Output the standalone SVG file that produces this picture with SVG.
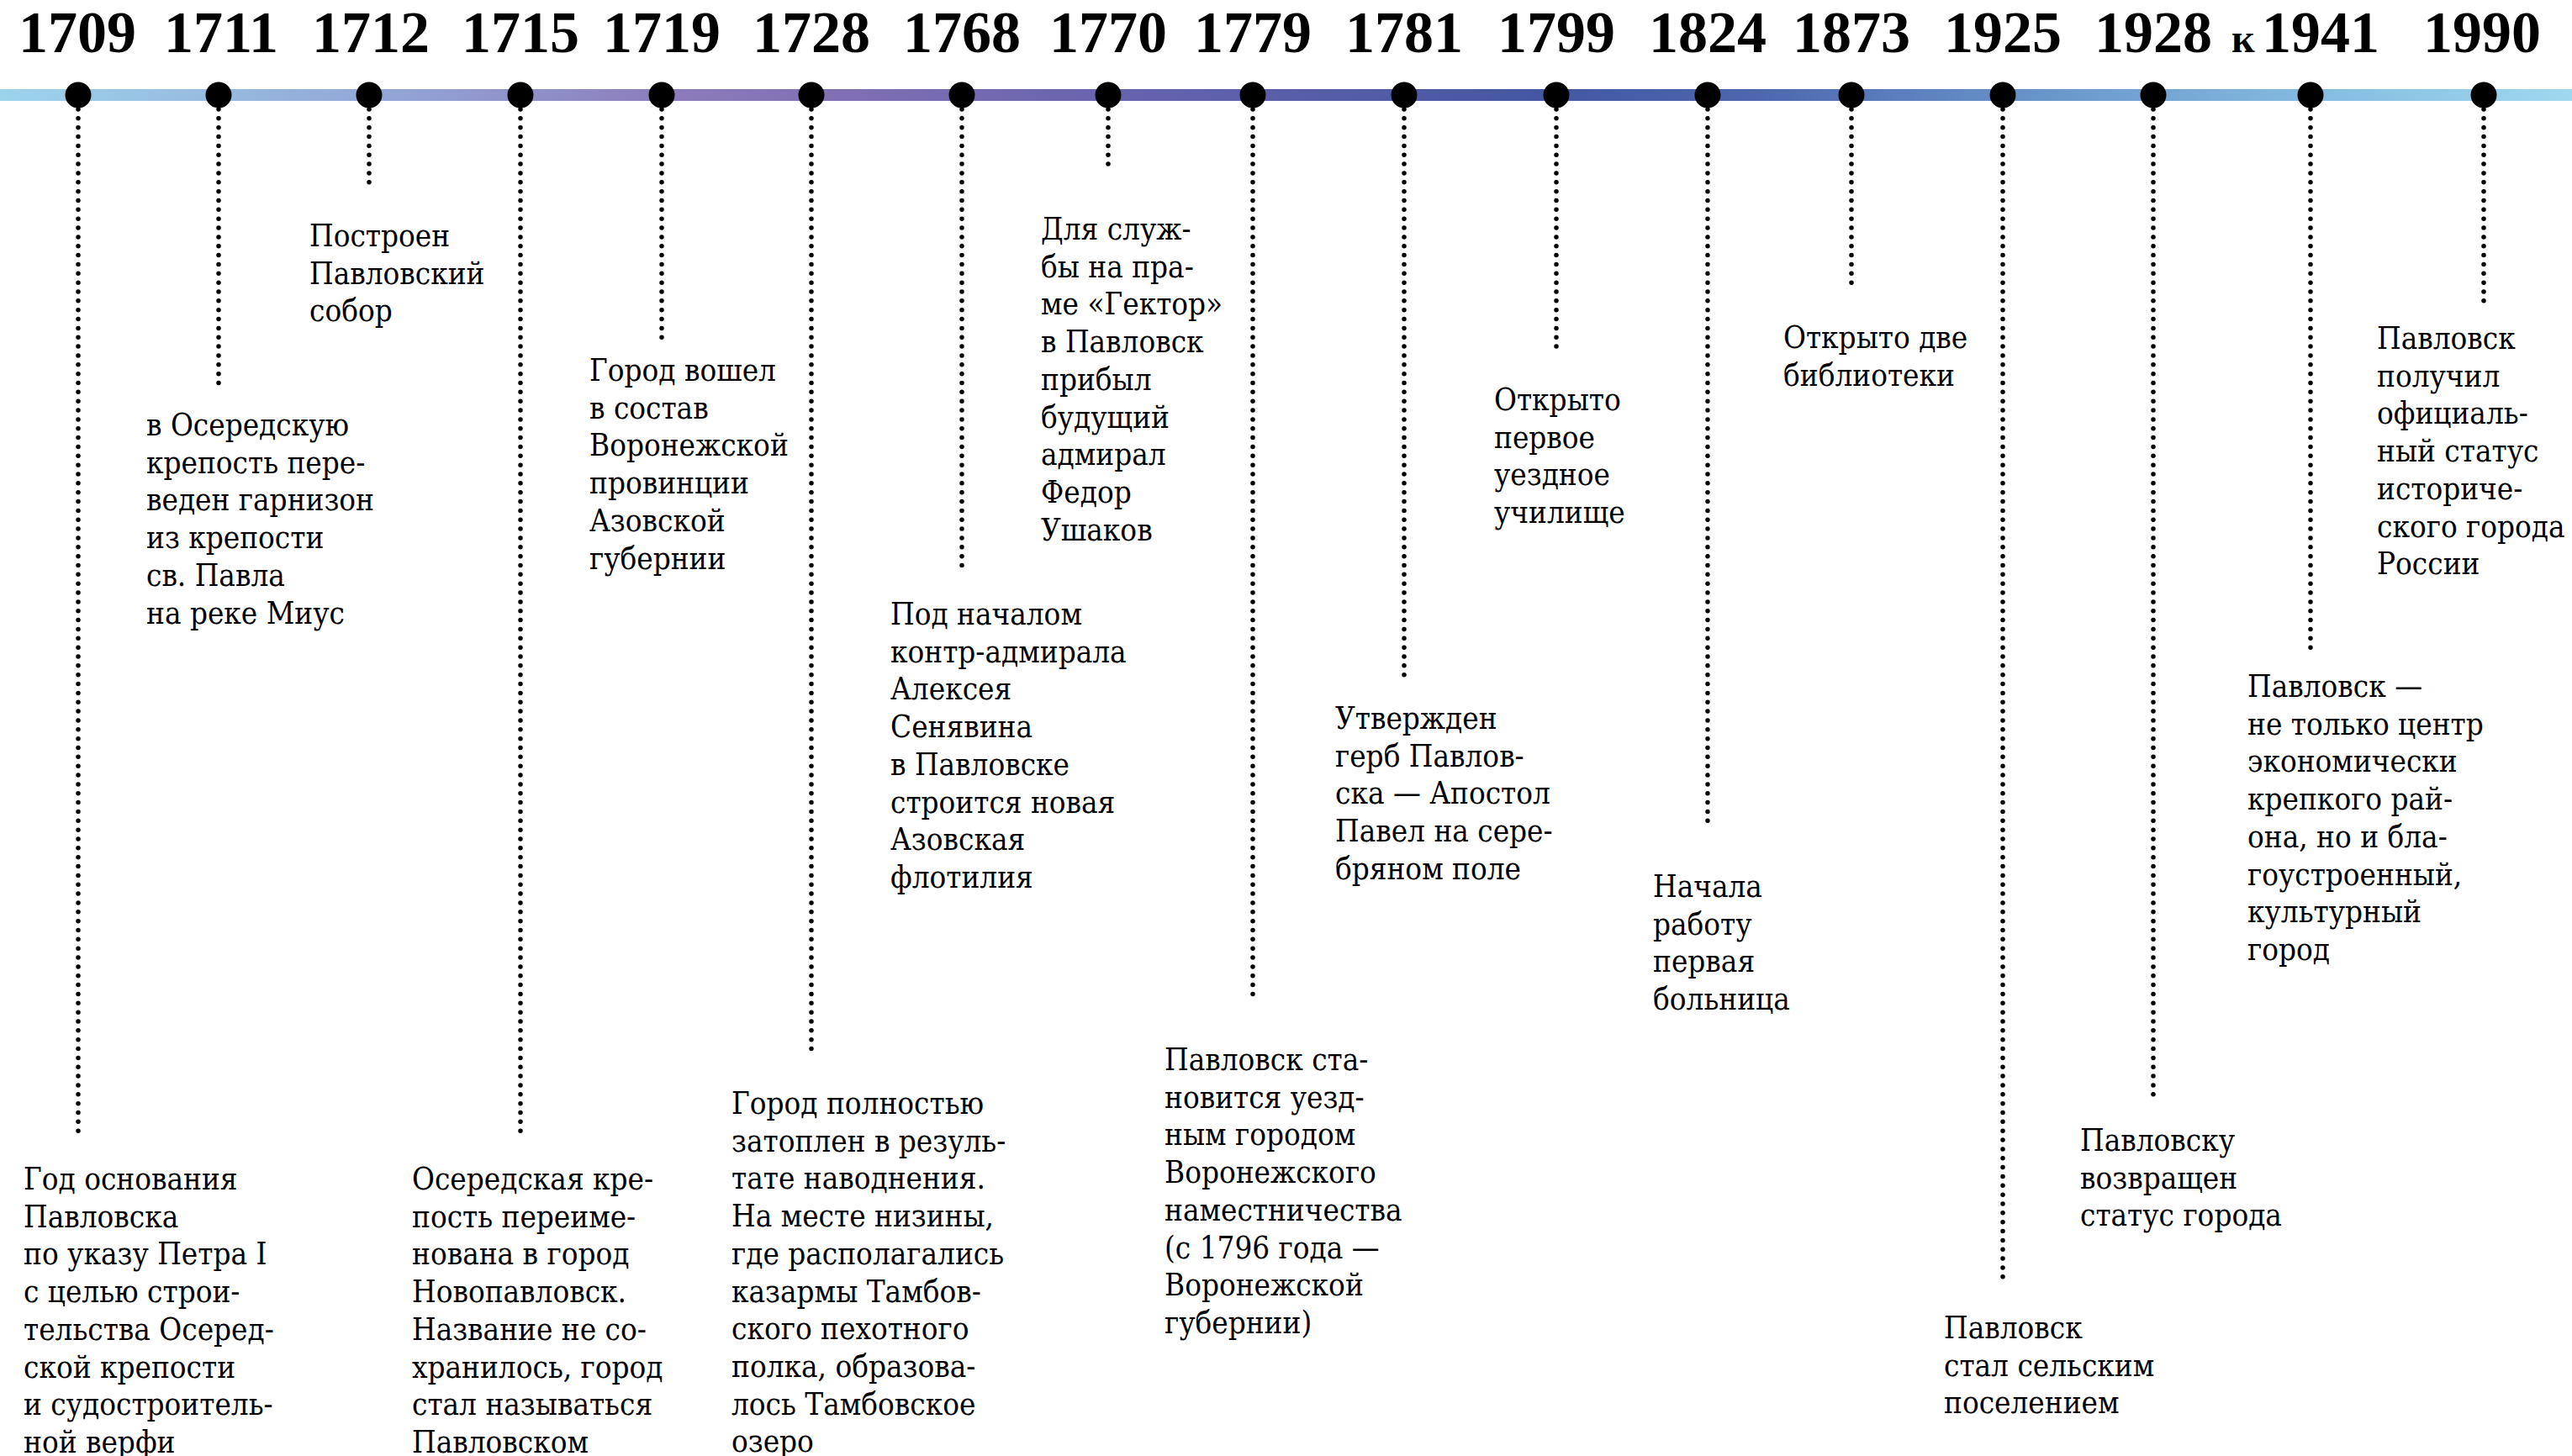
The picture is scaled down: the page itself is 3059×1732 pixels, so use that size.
<svg xmlns="http://www.w3.org/2000/svg" width="3059" height="1732" viewBox="0 0 3059 1732">
<style>
.yr{font-family:"Liberation Serif","Times New Roman",serif;font-weight:bold;font-size:70px;fill:#000;text-anchor:middle}
.t{font-family:"DejaVu Serif Condensed","DejaVu Serif",serif;font-stretch:condensed;font-size:36.5px;fill:#000}
.dl{stroke:#000;stroke-width:5.5;stroke-linecap:round;stroke-dasharray:0 10.85;fill:none}
.dot{fill:#000}
</style>
<defs>
<linearGradient id="bar" x1="0" y1="0" x2="3059" y2="0" gradientUnits="userSpaceOnUse">
<stop offset="0" stop-color="#9cd4ec"/>
<stop offset="0.15" stop-color="#93a6d6"/>
<stop offset="0.26" stop-color="#8c7cbb"/>
<stop offset="0.33" stop-color="#7f6fb3"/>
<stop offset="0.45" stop-color="#6462ad"/>
<stop offset="0.6" stop-color="#4457a2"/>
<stop offset="0.68" stop-color="#4d66ae"/>
<stop offset="0.8" stop-color="#6a98cb"/>
<stop offset="0.9" stop-color="#85bbe0"/>
<stop offset="1" stop-color="#a0d8ef"/>
</linearGradient>
</defs>
<rect width="3059" height="1732" fill="#fff"/>
<rect x="0" y="106" width="3059" height="14" fill="url(#bar)"/>
<g id="connectors">
<line class="dl" x1="93" y1="130" x2="93" y2="1346"/>
<line class="dl" x1="260" y1="130" x2="260" y2="465"/>
<line class="dl" x1="439" y1="130" x2="439" y2="227"/>
<line class="dl" x1="619" y1="130" x2="619" y2="1346"/>
<line class="dl" x1="787" y1="130" x2="787" y2="403"/>
<line class="dl" x1="965" y1="130" x2="965" y2="1249"/>
<line class="dl" x1="1144" y1="130" x2="1144" y2="673"/>
<line class="dl" x1="1318" y1="130" x2="1318" y2="205"/>
<line class="dl" x1="1490" y1="130" x2="1490" y2="1183"/>
<line class="dl" x1="1670" y1="130" x2="1670" y2="812"/>
<line class="dl" x1="1851" y1="130" x2="1851" y2="416"/>
<line class="dl" x1="2031" y1="130" x2="2031" y2="986"/>
<line class="dl" x1="2202" y1="130" x2="2202" y2="343"/>
<line class="dl" x1="2382" y1="130" x2="2382" y2="1519"/>
<line class="dl" x1="2561" y1="130" x2="2561" y2="1307"/>
<line class="dl" x1="2748" y1="130" x2="2748" y2="774"/>
<line class="dl" x1="2954" y1="130" x2="2954" y2="362"/>
</g>
<g id="e1709"><text class="yr" x="92" y="62">1709</text><circle class="dot" cx="93" cy="113" r="15.5"/>
<text class="t" y="1415"><tspan x="28">Год основания</tspan><tspan x="28" dy="44.7">Павловска</tspan><tspan x="28" dy="44.7">по указу Петра I</tspan><tspan x="28" dy="44.7">с целью строи-</tspan><tspan x="28" dy="44.7">тельства Осеред-</tspan><tspan x="28" dy="44.7">ской крепости</tspan><tspan x="28" dy="44.7">и судостроитель-</tspan><tspan x="28" dy="44.7">ной верфи</tspan></text></g>
<g id="e1711"><text class="yr" x="263" y="62">1711</text><circle class="dot" cx="260" cy="113" r="15.5"/>
<text class="t" y="518"><tspan x="174">в Осередскую</tspan><tspan x="174" dy="44.7">крепость пере-</tspan><tspan x="174" dy="44.7">веден гарнизон</tspan><tspan x="174" dy="44.7">из крепости</tspan><tspan x="174" dy="44.7">св. Павла</tspan><tspan x="174" dy="44.7">на реке Миус</tspan></text></g>
<g id="e1712"><text class="yr" x="441" y="62">1712</text><circle class="dot" cx="439" cy="113" r="15.5"/>
<text class="t" y="293"><tspan x="368">Построен</tspan><tspan x="368" dy="44.7">Павловский</tspan><tspan x="368" dy="44.7">собор</tspan></text></g>
<g id="e1715"><text class="yr" x="619" y="62">1715</text><circle class="dot" cx="619" cy="113" r="15.5"/>
<text class="t" y="1415"><tspan x="490">Осередская кре-</tspan><tspan x="490" dy="44.7">пость переиме-</tspan><tspan x="490" dy="44.7">нована в город</tspan><tspan x="490" dy="44.7">Новопавловск.</tspan><tspan x="490" dy="44.7">Название не со-</tspan><tspan x="490" dy="44.7">хранилось, город</tspan><tspan x="490" dy="44.7">стал называться</tspan><tspan x="490" dy="44.7">Павловском</tspan></text></g>
<g id="e1719"><text class="yr" x="787" y="62">1719</text><circle class="dot" cx="787" cy="113" r="15.5"/>
<text class="t" y="453"><tspan x="701">Город вошел</tspan><tspan x="701" dy="44.7">в состав</tspan><tspan x="701" dy="44.7">Воронежской</tspan><tspan x="701" dy="44.7">провинции</tspan><tspan x="701" dy="44.7">Азовской</tspan><tspan x="701" dy="44.7">губернии</tspan></text></g>
<g id="e1728"><text class="yr" x="965" y="62">1728</text><circle class="dot" cx="965" cy="113" r="15.5"/>
<text class="t" y="1325"><tspan x="870">Город полностью</tspan><tspan x="870" dy="44.7">затоплен в резуль-</tspan><tspan x="870" dy="44.7">тате наводнения.</tspan><tspan x="870" dy="44.7">На месте низины,</tspan><tspan x="870" dy="44.7">где располагались</tspan><tspan x="870" dy="44.7">казармы Тамбов-</tspan><tspan x="870" dy="44.7">ского пехотного</tspan><tspan x="870" dy="44.7">полка, образова-</tspan><tspan x="870" dy="44.7">лось Тамбовское</tspan><tspan x="870" dy="44.7">озеро</tspan></text></g>
<g id="e1768"><text class="yr" x="1144" y="62">1768</text><circle class="dot" cx="1144" cy="113" r="15.5"/>
<text class="t" y="743"><tspan x="1059">Под началом</tspan><tspan x="1059" dy="44.7">контр-адмирала</tspan><tspan x="1059" dy="44.7">Алексея</tspan><tspan x="1059" dy="44.7">Сенявина</tspan><tspan x="1059" dy="44.7">в Павловске</tspan><tspan x="1059" dy="44.7">строится новая</tspan><tspan x="1059" dy="44.7">Азовская</tspan><tspan x="1059" dy="44.7">флотилия</tspan></text></g>
<g id="e1770"><text class="yr" x="1318" y="62">1770</text><circle class="dot" cx="1318" cy="113" r="15.5"/>
<text class="t" y="285"><tspan x="1238">Для служ-</tspan><tspan x="1238" dy="44.7">бы на пра-</tspan><tspan x="1238" dy="44.7">ме «Гектор»</tspan><tspan x="1238" dy="44.7">в Павловск</tspan><tspan x="1238" dy="44.7">прибыл</tspan><tspan x="1238" dy="44.7">будущий</tspan><tspan x="1238" dy="44.7">адмирал</tspan><tspan x="1238" dy="44.7">Федор</tspan><tspan x="1238" dy="44.7">Ушаков</tspan></text></g>
<g id="e1779"><text class="yr" x="1490" y="62">1779</text><circle class="dot" cx="1490" cy="113" r="15.5"/>
<text class="t" y="1273"><tspan x="1385">Павловск ста-</tspan><tspan x="1385" dy="44.7">новится уезд-</tspan><tspan x="1385" dy="44.7">ным городом</tspan><tspan x="1385" dy="44.7">Воронежского</tspan><tspan x="1385" dy="44.7">наместничества</tspan><tspan x="1385" dy="44.7">(с 1796 года —</tspan><tspan x="1385" dy="44.7">Воронежской</tspan><tspan x="1385" dy="44.7">губернии)</tspan></text></g>
<g id="e1781"><text class="yr" x="1670" y="62">1781</text><circle class="dot" cx="1670" cy="113" r="15.5"/>
<text class="t" y="867"><tspan x="1588">Утвержден</tspan><tspan x="1588" dy="44.7">герб Павлов-</tspan><tspan x="1588" dy="44.7">ска — Апостол</tspan><tspan x="1588" dy="44.7">Павел на сере-</tspan><tspan x="1588" dy="44.7">бряном поле</tspan></text></g>
<g id="e1799"><text class="yr" x="1851" y="62">1799</text><circle class="dot" cx="1851" cy="113" r="15.5"/>
<text class="t" y="488"><tspan x="1777">Открыто</tspan><tspan x="1777" dy="44.7">первое</tspan><tspan x="1777" dy="44.7">уездное</tspan><tspan x="1777" dy="44.7">училище</tspan></text></g>
<g id="e1824"><text class="yr" x="2031" y="62">1824</text><circle class="dot" cx="2031" cy="113" r="15.5"/>
<text class="t" y="1067"><tspan x="1966">Начала</tspan><tspan x="1966" dy="44.7">работу</tspan><tspan x="1966" dy="44.7">первая</tspan><tspan x="1966" dy="44.7">больница</tspan></text></g>
<g id="e1873"><text class="yr" x="2202" y="62">1873</text><circle class="dot" cx="2202" cy="113" r="15.5"/>
<text class="t" y="414"><tspan x="2121">Открыто две</tspan><tspan x="2121" dy="44.7">библиотеки</tspan></text></g>
<g id="e1925"><text class="yr" x="2382" y="62">1925</text><circle class="dot" cx="2382" cy="113" r="15.5"/>
<text class="t" y="1592"><tspan x="2312">Павловск</tspan><tspan x="2312" dy="44.7">стал сельским</tspan><tspan x="2312" dy="44.7">поселением</tspan></text></g>
<g id="e1928"><text class="yr" x="2561" y="62">1928</text><circle class="dot" cx="2561" cy="113" r="15.5"/>
<text class="t" y="1369"><tspan x="2474">Павловску</tspan><tspan x="2474" dy="44.7">возвращен</tspan><tspan x="2474" dy="44.7">статус города</tspan></text></g>
<g id="e1941"><text class="yr" y="62" style="text-anchor:start"><tspan x="2654" font-size="48">к</tspan><tspan x="2690">1941</tspan></text><circle class="dot" cx="2748" cy="113" r="15.5"/>
<text class="t" y="829"><tspan x="2673">Павловск —</tspan><tspan x="2673" dy="44.7">не только центр</tspan><tspan x="2673" dy="44.7">экономически</tspan><tspan x="2673" dy="44.7">крепкого рай-</tspan><tspan x="2673" dy="44.7">она, но и бла-</tspan><tspan x="2673" dy="44.7">гоустроенный,</tspan><tspan x="2673" dy="44.7">культурный</tspan><tspan x="2673" dy="44.7">город</tspan></text></g>
<g id="e1990"><text class="yr" x="2952" y="62">1990</text><circle class="dot" cx="2954" cy="113" r="15.5"/>
<text class="t" y="415"><tspan x="2827">Павловск</tspan><tspan x="2827" dy="44.7">получил</tspan><tspan x="2827" dy="44.7">официаль-</tspan><tspan x="2827" dy="44.7">ный статус</tspan><tspan x="2827" dy="44.7">историче-</tspan><tspan x="2827" dy="44.7">ского города</tspan><tspan x="2827" dy="44.7">России</tspan></text></g>
</svg>
